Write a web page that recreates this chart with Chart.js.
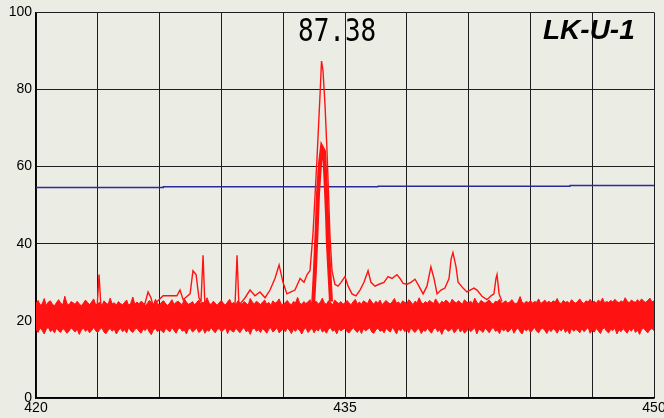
<!DOCTYPE html>
<html>
<head>
<meta charset="utf-8">
<script src="https://cdn.jsdelivr.net/npm/chart.js@4/dist/chart.umd.min.js"></script>
<style>
  html, body { margin: 0; padding: 0; background: #ebede4; }
  #wrap { width: 664px; height: 418px; overflow: hidden; }
</style>
</head>
<body>
<div id="wrap"><canvas id="spec" width="680" height="418"></canvas></div>
<script>
// ---------------- data ----------------
var xTicksShown = [420, 435, 450];
var peakText = "87.38";
var sampleName = "LK-U-1";

// noise band envelopes, sampled every 0.1 from 420
var bandStart = 420, bandStep = 0.1;
var bandUpper = [
  24.6,25.3,24.1,24.4,25.8,24.0,24.9,25.2,24.3,23.9,
  24.8,25.5,24.6,24.2,26.4,24.5,24.1,25.0,24.7,24.3,
  25.1,24.4,23.9,24.6,25.4,24.8,24.2,24.9,25.7,24.1,
  24.5,24.8,24.0,25.2,24.6,24.3,25.9,24.4,24.7,24.1,
  25.0,24.5,24.2,24.8,25.4,24.0,24.6,26.2,24.3,24.9,
  24.4,25.1,24.7,24.0,24.5,25.3,24.8,24.2,25.6,24.5,
  24.1,24.9,25.2,24.4,24.0,24.7,25.5,24.3,24.8,25.1,
  24.6,24.2,25.7,24.9,24.3,24.6,25.0,24.1,24.8,25.4,
  24.3,24.9,24.5,26.0,24.7,24.2,25.1,24.6,24.0,24.8,
  25.3,24.5,24.1,24.9,25.6,24.4,24.8,24.2,25.2,24.7,
  24.3,25.0,24.6,24.1,25.8,24.9,24.4,25.1,24.7,24.2,
  24.9,25.4,24.3,24.8,24.0,25.2,24.6,24.9,25.7,24.4,
  24.1,24.8,25.3,24.5,24.2,25.0,24.7,26.1,24.6,24.3,
  25.0,24.5,24.9,25.5,24.2,24.7,25.1,24.4,24.8,25.9,
  24.6,24.3,25.2,24.8,24.1,25.4,24.9,24.5,25.0,24.3,
  24.7,25.3,24.6,24.2,25.0,25.6,24.4,24.9,24.3,25.2,
  24.8,24.5,25.7,24.9,24.3,25.1,24.6,25.4,24.2,24.8,
  25.3,24.7,24.4,25.0,25.8,24.6,24.9,24.3,25.2,24.8,
  24.5,25.5,24.9,24.2,25.1,24.7,26.0,24.8,24.4,25.0,
  24.6,25.3,24.9,24.5,25.7,24.8,24.3,25.1,24.7,25.4,
  24.9,24.4,25.6,25.0,24.6,25.2,24.8,24.3,25.5,24.9,
  24.7,25.1,24.5,25.9,24.8,24.4,25.3,24.9,24.6,25.0,
  25.4,24.7,24.3,25.1,24.9,25.6,24.5,24.8,25.2,24.6,
  24.9,25.5,24.7,24.4,25.0,26.3,24.8,24.5,25.1,24.7,
  25.3,24.6,25.0,24.8,25.7,24.5,24.9,25.4,24.7,25.1,
  24.6,25.2,24.9,25.8,24.7,24.5,25.3,24.8,25.0,24.6,
  25.5,24.9,24.6,25.1,25.7,24.8,24.5,25.2,24.9,25.6,
  24.8,25.1,24.6,25.4,24.9,25.9,24.7,25.0,24.8,25.3,
  24.9,25.6,25.0,24.7,25.2,24.8,26.0,25.1,24.7,25.4,
  25.0,24.8,25.5,24.9,25.7,25.1,24.8,25.3,25.9,24.9,
  25.2
];
var bandLower = [
  17.8,17.0,18.2,17.5,16.6,17.9,18.3,17.2,17.7,16.9,
  18.1,17.4,17.0,18.0,17.6,16.8,17.3,18.2,17.7,17.1,
  17.9,16.5,17.6,18.1,17.3,17.8,16.9,17.5,18.3,17.4,
  17.0,17.8,18.2,17.1,16.7,17.6,18.0,17.3,17.9,16.6,
  17.5,18.1,17.2,17.7,16.9,18.3,17.4,17.0,17.8,18.1,
  17.3,16.8,17.9,17.5,18.2,17.1,16.4,17.7,18.0,17.2,
  17.8,17.4,16.9,18.1,17.6,17.2,18.3,17.5,16.8,17.9,
  18.2,17.3,17.7,16.6,17.9,18.0,17.1,17.6,18.2,17.0,
  17.4,18.1,16.8,17.7,17.3,18.3,17.5,16.9,17.8,18.0,
  17.2,17.6,18.2,16.7,17.9,17.4,17.1,18.1,17.5,16.9,
  17.8,18.3,17.2,17.6,16.5,17.9,18.1,17.3,17.7,17.0,
  18.0,17.5,16.8,17.8,18.2,17.1,17.6,18.3,16.9,17.4,
  17.9,17.2,18.1,17.6,16.7,17.8,17.3,18.0,17.5,16.6,
  17.7,18.2,17.0,17.5,18.1,16.9,17.8,17.4,18.3,17.1,
  17.6,16.8,17.9,18.2,17.3,17.7,16.6,18.0,17.4,17.8,
  18.1,17.2,16.9,17.6,18.3,17.5,17.0,17.9,16.7,18.0,
  17.4,17.8,18.2,17.1,16.8,17.7,18.1,17.3,17.6,16.9,
  18.0,17.5,17.1,18.3,17.6,16.6,17.9,17.4,18.1,17.2,
  17.7,16.9,18.2,17.5,17.0,17.8,18.0,16.7,17.6,17.3,
  18.1,17.4,16.8,17.9,18.2,17.2,17.7,16.5,17.8,18.0,
  17.3,17.6,18.1,16.9,17.5,18.3,17.1,17.8,16.8,17.4,
  18.0,17.2,17.7,18.2,16.6,17.9,17.5,17.0,18.1,17.6,
  16.9,17.8,18.3,17.3,17.6,16.7,18.0,17.4,17.9,17.1,
  17.5,18.2,16.8,17.7,18.1,17.2,16.6,17.9,17.4,18.0,
  17.0,17.6,18.3,17.3,16.9,17.8,18.1,17.5,16.7,17.9,
  17.2,18.0,17.6,16.8,17.9,17.4,18.2,17.0,17.7,16.6,
  18.1,17.3,17.8,17.5,16.9,18.0,17.2,17.7,18.3,16.8,
  17.6,17.1,18.0,17.4,16.7,17.9,18.2,17.3,16.9,17.8,
  17.5,18.1,16.6,17.7,17.2,18.0,17.4,16.8,17.9,17.3,
  18.2,17.0,17.6,16.5,17.8,18.1,17.4,16.9,17.7,18.0,
  17.5
];

// thin trace (max signal)
var traceX = [422.96,423.06,423.16,425.29,425.44,425.58,425.68,426.17,426.84,426.99,427.14,
  427.48,427.62,427.77,427.91,428.01,428.11,428.20,428.69,429.66,429.76,429.85,
  430.15,430.39,430.63,430.87,431.12,431.36,431.60,431.80,431.99,432.18,432.38,432.57,432.82,433.01,433.16,
  433.30,433.45,433.54,433.64,433.72,433.80,433.86,433.93,434.03,434.12,434.20,434.27,434.37,434.51,
  434.66,434.81,435.00,435.15,435.34,435.53,435.73,435.92,436.12,436.26,436.46,436.65,436.89,437.09,437.28,437.52,
  437.67,437.82,438.01,438.20,438.40,438.59,438.79,438.98,439.17,439.32,439.47,439.66,439.85,440.05,440.15,440.24,
  440.39,440.49,440.73,440.92,441.07,441.26,441.41,441.65,441.89,442.09,442.23,442.33,442.38,442.48,442.62];
var traceY = [23,32,23,24.5,27.5,26,24,26.5,26.5,28,25.5,
  27,33,32,26,25,37,24,24,24,37,24,
  26,28,26.5,27.5,26,28,31,34.5,30,27,27.5,28,31,30,32,
  33,43,52,62,71,80,87.38,85,76,65,53,42,33,29.5,
  29,30,31.5,29,27,26.5,28,30,33,30,29,29.5,30,31.5,31,32,
  31,29.7,29.5,30,30.8,29,27,29,34,31,27,28,28.5,31,36,37.7,
  34,30,28.5,27.5,28,28.5,28,26.4,25.5,26.5,27,31,32,27,25];

// thick trace (second peak)
var peakX = [433.45,433.54,433.62,433.69,433.79,433.88,433.98,434.05,434.13,434.17,434.25,434.32];
var peakY = [24,33,43,53,61,65,64,57,47,40,32,25];

// blue reference line
var refX = [420,426.17,426.18,436.6,436.61,445.92,445.93,450];
var refY = [54.6,54.6,54.8,54.8,54.9,54.9,55.1,55.1];

// ---------------- build ----------------
function pairs(xs, ys) {
  return xs.map(function (x, i) { return { x: x, y: ys[i] }; });
}
function bandPoints(ys) {
  return ys.map(function (y, i) { return { x: bandStart + i * bandStep, y: y }; });
}

var red = "rgb(255,18,18)";

var labelsPlugin = {
  id: "labels",
  afterDraw: function (chart) {
    var ctx = chart.ctx;
    ctx.save();
    ctx.fillStyle = "#000";
    ctx.textBaseline = "alphabetic";
    ctx.textAlign = "left";
    ctx.font = "26px 'DejaVu Sans Mono'";
    ctx.save();
    ctx.scale(1, 1.21);
    ctx.fillText(peakText, 298, 41 / 1.21);
    ctx.restore();
    ctx.font = "italic bold 28px 'Liberation Sans', Arial, sans-serif";
    ctx.fillText(sampleName, 543, 39);
    ctx.restore();
  }
};

new Chart(document.getElementById("spec"), {
  type: "line",
  data: {
    datasets: [
      { data: bandPoints(bandLower), borderColor: red, backgroundColor: red, borderWidth: 1, fill: false, order: 3 },
      { data: bandPoints(bandUpper), borderColor: red, backgroundColor: red, borderWidth: 1, fill: "-1", order: 3 },
      { data: pairs(traceX, traceY), borderColor: red, borderWidth: 1.4, fill: false, order: 2 },
      { data: pairs(peakX, peakY), borderColor: red, borderWidth: 4, fill: false, order: 1 },
      { data: pairs(refX, refY), borderColor: "#2b2b9c", borderWidth: 1.5, fill: false, order: 4 }
    ]
  },
  options: {
    responsive: false,
    animation: false,
    devicePixelRatio: 1,
    layout: { padding: { top: 8, right: 26, bottom: 0, left: 0 } },
    elements: { point: { radius: 0 }, line: { tension: 0 } },
    plugins: { legend: { display: false }, tooltip: { enabled: false } },
    scales: {
      x: {
        type: "linear",
        min: 420,
        max: 450,
        afterFit: function (s) { s.height = 20; },
        grid: { color: "#1e1e1e", lineWidth: 1, drawTicks: false },
        border: { color: "#000", width: 1.5 },
        ticks: {
          stepSize: 3,
          autoSkip: false,
          maxRotation: 0,
          padding: 2,
          color: "#000",
          font: { family: "'Liberation Sans', Arial, sans-serif", size: 14 },
          callback: function (v) { return xTicksShown.indexOf(v) >= 0 ? v : ""; }
        }
      },
      y: {
        min: 0,
        max: 100,
        afterFit: function (s) { s.width = 36; },
        grid: { color: "#1e1e1e", lineWidth: 1, drawTicks: false },
        border: { color: "#000", width: 1.5 },
        ticks: {
          stepSize: 20,
          padding: 4,
          color: "#000",
          font: { family: "'Liberation Sans', Arial, sans-serif", size: 14 }
        }
      }
    }
  },
  plugins: [labelsPlugin]
});
</script>
</body>
</html>
